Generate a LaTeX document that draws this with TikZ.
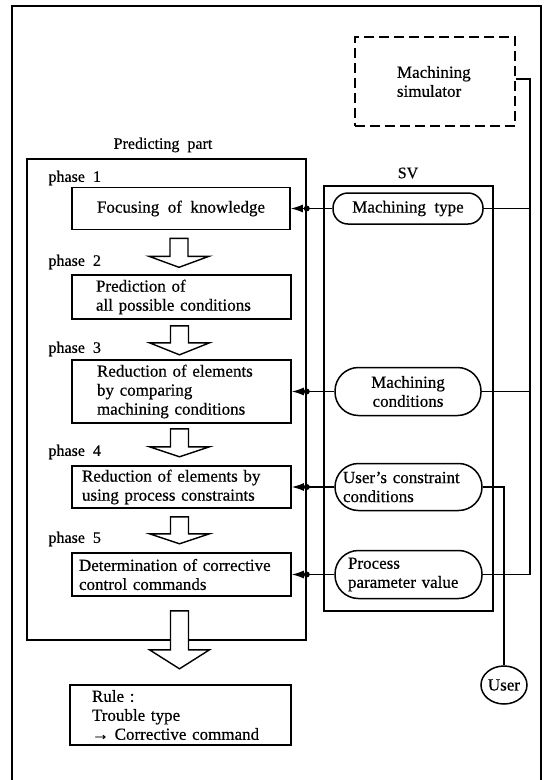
\documentclass[tikz,border=0pt]{standalone}
\usepackage{fontspec}
\setmainfont{Liberation Serif}[WordSpace=2,FakeBold=0.5]
\usetikzlibrary{arrows.meta,calc,shapes.geometric}

% hollow block arrow below node #1: stem top, head top and tip offsets
\newcommand{\hollowarrow}[4]{%
  \draw[blockarrow]
    ($(#1.south)+(-11,#2)$) -- ($(#1.south)+(7,#2)$) -- ($(#1.south)+(7,#3)$)
    -- ($(#1.south)+(28,#3)$) -- ($(#1.south)+(-2,#4)$) -- ($(#1.south)+(-32,#3)$)
    -- ($(#1.south)+(-11,#3)$) -- cycle;}

\begin{document}
\begin{tikzpicture}[x=1pt,y=-1pt,
  every node/.style={font=\fontsize{17}{19}\selectfont},
  label/.style={font=\fontsize{16}{19}\selectfont},
  phasebox/.style={draw,line width=1.6pt,inner ysep=0pt,align=left},
  stadium/.style={draw,line width=1.5pt,inner ysep=0pt,align=left,
    minimum height=48,rounded corners=23.5pt},
  conn/.style={line width=1.4pt},
  tip/.style={-{Latex[length=12pt,width=8pt]}},
  blockarrow/.style={draw,line width=1.4pt,fill=white,line join=miter},
  frame/.style={draw,line width=1.6pt}]
\useasboundingbox (0,0) rectangle (551,780);

% outer frame, open at the bottom
\draw[line width=1.9pt] (12,780) -- (12,6) -- (541,6) -- (541,780);

% machining simulator
\node[draw,dashed,dash pattern=on 10pt off 5pt,line width=1.8pt,
  minimum width=160,minimum height=89,text width=76,inner xsep=42,
  align=left] (sim) at (435,81.5) {Machining\\simulator};

% predicting part
\node[label] (predlabel) at (163,145) {Predicting part};
\node[frame,minimum width=279,minimum height=481,inner sep=0pt] (pred) at (166.5,399.5) {};

\node[label,anchor=west] (ph1) at (45,178) {phase 1};
\node[label,anchor=west] (ph2) at (45,262) {phase 2};
\node[label,anchor=west] (ph3) at (45,349) {phase 3};
\node[label,anchor=west] (ph4) at (45,452) {phase 4};
\node[label,anchor=west] (ph5) at (45,539) {phase 5};

\node[phasebox,align=center,minimum width=218,minimum height=42] (p1) at (181,208.5)
  {Focusing of knowledge};
\node[phasebox,minimum width=219,minimum height=44,text width=171,inner xsep=24] (p2) at (181.5,297)
  {Prediction of\\all possible conditions};
\node[phasebox,minimum width=219,minimum height=63,text width=169,inner xsep=25] (p3) at (181.5,391.5)
  {Reduction of elements\\by comparing\\machining conditions};
\node[phasebox,minimum width=219,minimum height=42,text width=199,inner xsep=10] (p4) at (181.5,487)
  {Reduction of elements by\\using process constraints};
\node[phasebox,minimum width=219,minimum height=43,text width=205,inner xsep=7] (p5) at (181.5,574.5)
  {Determination of corrective\\control commands};
\node[phasebox,minimum width=221,minimum height=60,text width=177,inner xsep=22] (rule) at (180.5,715)
  {Rule :\\Trouble type\\→ Corrective command};

% flow between the phases
\hollowarrow{p1}{8}{26}{37}
\hollowarrow{p2}{6}{23}{35}
\hollowarrow{p3}{5}{23}{33}
\hollowarrow{p4}{8}{25}{35}
\hollowarrow{p5}{14}{53}{72}

% SV
\node[label] (svlabel) at (408,173) {SV};
\node[draw,line width=1.3pt,minimum width=169,minimum height=425,inner sep=0pt] (sv) at (408.5,398.5) {};

\node[stadium,align=center,minimum width=150,minimum height=31,rounded corners=15pt] (mtype) at (408,208.5)
  {Machining type};
\node[stadium,align=center,minimum width=146] (mcond) at (408,391.5)
  {Machining\\conditions};
\node[stadium,minimum width=147,minimum height=47,text width=131,inner xsep=8] (ucons) at (408.5,487)
  {User's constraint\\conditions};
\node[stadium,minimum width=147,text width=121,inner xsep=13] (pparam) at (408.5,574.5)
  {Process\\parameter value};

\node[draw,ellipse,line width=1.5pt,minimum width=46,minimum height=38,inner sep=0pt] (user) at (504,685) {User};

% SV items feed the phases
\foreach \a/\b in {mtype/p1,mcond/p3,ucons/p4,pparam/p5}{
  \draw[conn,tip] (\a.west) -- (\b.east);
  \fill (\a.west -| pred.east) circle (3pt);
}

% bus on the right from the simulator
\coordinate (bus) at (530,0);
\draw[conn] (sim.east |- 0,79) -- (bus |- 0,79) -- (bus |- pparam.east) -- (pparam.east);
\draw[conn] (mtype.east) -- (mtype.east -| bus);
\draw[conn] (mcond.east) -- (mcond.east -| bus);

% user input
\draw[conn] (ucons.east) -| (user.north);
\end{tikzpicture}
\end{document}
